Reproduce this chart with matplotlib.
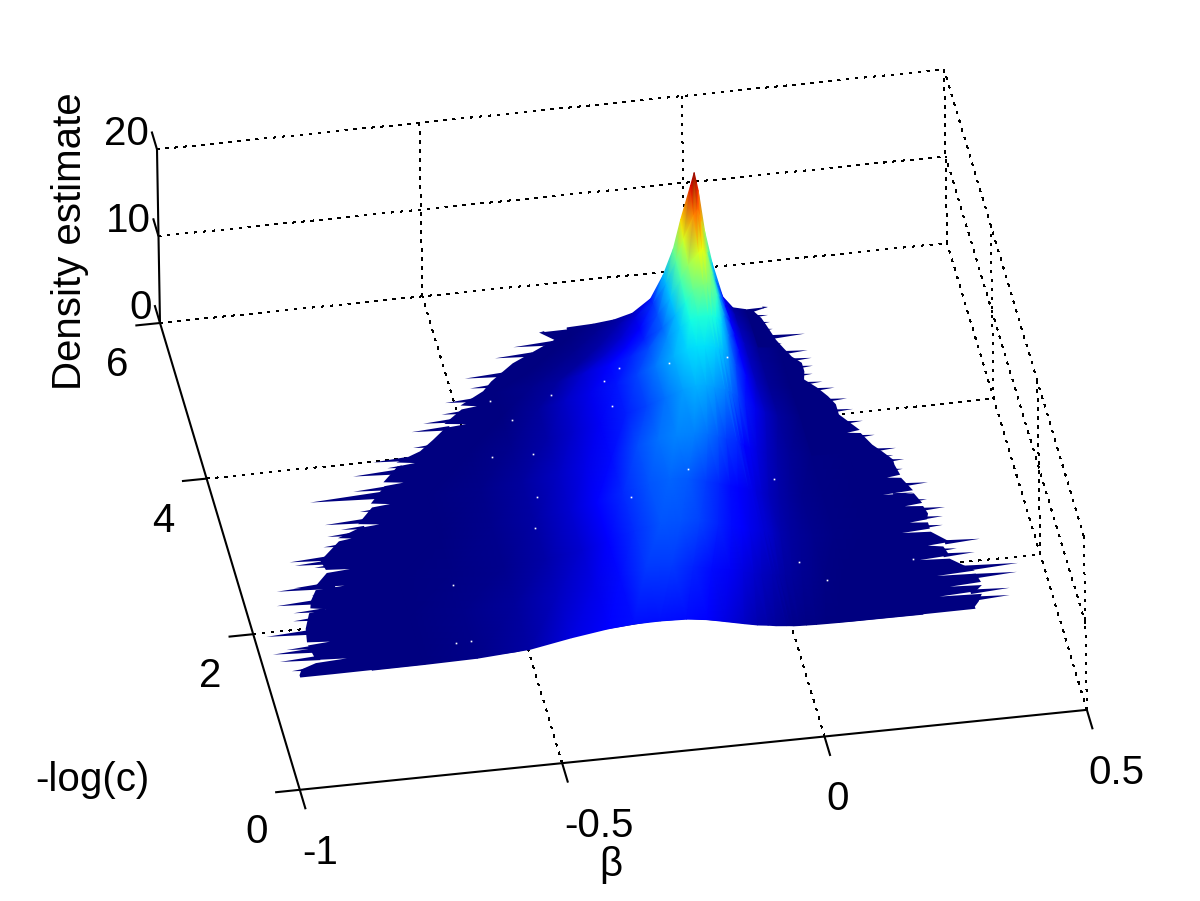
import numpy as np
import matplotlib
matplotlib.use("Agg")
import matplotlib.pyplot as plt

plt.rcParams['font.family'] = ['Liberation Sans', 'DejaVu Sans']

# -----------------------------
# Density table
# -----------------------------
n = np.nan
beta_cols = [-.8, -.7, -.6, -.5, -.42, -.35, -.3, -.25, -.2, -.16, -.125, -.09, -.065,
             -.045, -.03, -.01, -.003, .004, .015, .028, .047, .066, .09, .13, .2, .25]
logc_rows = [5.42, 5.3, 5.1, 4.9, 4.7, 4.4, 4.0, 3.5, 3.0, 2.5, 2.0, 1.4]
density = [
    [n, n, n, n, n, n, n, .03, .15, .4, .95, 2.4, 5.0, 7.9, 11.2, 15, 16.4, 14.3, 9.5, 5.8, 1.8, .4, .05, n, n, n],
    [n, n, n, n, n, n, n, .05, .3, .7, 1.4, 2.9, 5, 7.5, 10, 12.6, 13.2, 11.8, 8.2, 5, 1.9, .6, .1, n, n, n],
    [n, n, n, n, n, n, .03, .2, .6, 1.2, 2, 3.4, 5.2, 7.2, 8.8, 10.1, 10.4, 9.6, 7.5, 4.8, 2, .8, .2, n, n, n],
    [n, n, n, n, n, .03, .2, .5, 1.2, 1.8, 2.6, 3.7, 5, 6.4, 7.6, 8.2, 8.3, 8, 6.8, 4.4, 2.1, .9, .3, .03, n, n],
    [n, n, n, n, .03, .2, .5, 1.2, 1.9, 2.6, 3.3, 4.3, 5.3, 6.1, 6.4, 6.4, 6.3, 6.1, 5.4, 3.8, 2, .9, .35, .03, n, n],
    [n, n, n, n, .05, .4, 1, 1.6, 2.4, 3.2, 4, 4.9, 5.5, 5.7, 5.7, 5.4, 5.2, 5, 4.3, 3.1, 1.8, .9, .35, .05, n, n],
    [n, n, n, .03, .2, .6, 1.1, 1.7, 2.5, 3.2, 3.9, 4.6, 4.9, 4.8, 4.5, 4.1, 3.9, 3.6, 3.1, 2.4, 1.6, 1, .5, .1, n, n],
    [n, n, .03, .15, .45, 1, 1.5, 2.2, 3.3, 3.9, 4.2, 4.1, 3.8, 3.4, 3, 2.7, 2.4, 2.1, 1.7, 1.35, .95, .6, .35, .12, .02, n],
    [n, .02, .06, .2, .55, 1.2, 1.9, 2.7, 3.4, 3.7, 3.5, 3, 2.6, 2.2, 1.9, 1.6, 1.5, 1.3, 1.1, .85, .6, .4, .25, .1, .02, n],
    [n, .02, .1, .25, .6, 1.2, 1.9, 2.8, 3.4, 3.35, 3.1, 2.6, 2.2, 1.8, 1.55, 1.3, 1.2, 1.1, .9, .7, .5, .35, .2, .08, .02, n],
    [.01, .05, .15, .4, .9, 1.5, 2.2, 3, 3, 2.6, 2.2, 1.7, 1.4, 1.1, .9, .75, .7, .6, .5, .4, .3, .2, .12, .05, .02, .01],
    [.01, .05, .15, .55, 1.4, 2, 2.25, 2.3, 2.2, 1.9, 1.45, 1, .7, .55, .4, .28, .24, .18, .15, .12, .08, .06, .04, .03, .02, .01],
]

# outline of the support with its white notches, front to back on the left
left_beta = [-.937, -.93, -.90, -.84, -.90, -.90, -.905, -.862, -.905, -.90, -.885, -.851, -.88, -.875,
             -.86, -.804, -.86, -.83, -.785, -.83, -.835, -.79, -.765, -.79, -.745, -.706, -.745, -.71,
             -.675, -.71, -.675, -.638, -.675, -.64, -.606, -.64, -.59, -.56, -.53, -.49, -.53, -.49,
             -.46, -.49, -.44, -.42, -.37, -.28, -.304]
left_logc = [1.43, 1.5, 1.56, 1.58, 1.60, 1.65, 1.79, 1.81, 1.83, 2.0, 2.19, 2.22, 2.25, 2.34,
             2.47, 2.49, 2.51, 2.67, 2.69, 2.71, 2.83, 3.05, 3.07, 3.09, 3.19, 3.21, 3.24, 3.43,
             3.45, 3.48, 3.68, 3.70, 3.73, 3.91, 3.93, 3.96, 4.07, 4.195, 4.33, 4.35, 4.38, 4.54,
             4.56, 4.59, 4.74, 4.85, 5.05, 5.29, 5.40]

# and back to front on the right
right_beta = [.133, .105, .115, .12, .125, .13, .14, .15, .165, .165, .16, .18, .195, .205, .205,
              .235, .21, .235, .25, .265, .28, .28, .285, .259, .285, .30, .242, .30, .31, .276,
              .31, .315, .31, .276, .31, .31, .256, .31, .34, .297, .325, .33, .33, .274, .33,
              .37, .297, .37, .375, .315, .375, .36, .29, .37, .36, .35]
right_logc = [5.43, 5.39, 5.30, 5.21, 5.11, 5.01, 4.89, 4.78, 4.69, 4.58, 4.48, 4.36, 4.24, 4.13, 4.0,
              3.78, 3.76, 3.74, 3.58, 3.48, 3.37, 3.30, 3.17, 3.15, 3.13, 2.96, 2.94, 2.92, 2.79, 2.77,
              2.75, 2.65, 2.58, 2.56, 2.54, 2.46, 2.44, 2.42, 2.27, 2.25, 2.22, 2.13, 2.10, 2.08, 2.06,
              1.88, 1.86, 1.84, 1.73, 1.71, 1.69, 1.62, 1.60, 1.58, 1.49, 1.43]

# spike tips along both edges
left_tip_beta = [-.304, -.36, -.40, -.467, -.463, -.517, -.53, -.569, -.595, -.601, -.683, -.66, -.728, -.736,
                 -.822, -.735, -.807, -.78, -.809, -.822, -.893, -.885, -.85, -.9, -.933, -.87, -.941, -.914,
                 -.919, -.89, -.977, -.9, -.947, -.975, -.966, -.949]
left_tip_logc = [5.40, 5.25, 5.135, 4.92, 4.79, 4.64, 4.50, 4.41, 4.32, 4.12, 3.99, 3.90, 3.84, 3.65,
                 3.57, 3.39, 3.27, 3.19, 3.12, 2.995, 2.85, 2.80, 2.75, 2.52, 2.50, 2.41, 2.32, 2.21,
                 2.11, 2.05, 1.95, 1.88, 1.76, 1.72, 1.62, 1.49]
right_tip_beta = [.133, .129, .129, .13, .187, .139, .183, .186, .184, .179, .193, .212, .229, .234, .246,
                  .26, .245, .292, .283, .301, .293, .332, .3, .321, .35, .341, .336, .397, .349, .38,
                  .454, .447, .425, .421]
right_tip_logc = [5.43, 5.33, 5.24, 5.15, 5.05, 4.96, 4.84, 4.74, 4.64, 4.54, 4.43, 4.34, 4.19, 4.05, 3.89,
                  3.70, 3.61, 3.51, 3.42, 3.36, 3.24, 3.04, 2.93, 2.83, 2.71, 2.60, 2.49, 2.27, 2.18, 2.11,
                  1.92, 1.81, 1.62, 1.53]

# silhouette of the front row
front_beta = [.35, .25, .111, .015, -.061, -.137, -.194, -.27, -.398, -.524, -.715, -.875, -.937]
front_z = [.02, 0, 0, .2, .67, 1.6, 2.2, 2.3, 1.8, .4, .05, 0, 0]
front_logc = 1.4

# small holes in the surface
hole_beta = [-.176, -.211, -.317, -.21, -.433, -.403, -.46, -.383, -.399, -.225, -.42,
             -.603, -.63, -.601, -.081, .03, -.104, .049, .049, .091, .262]
hole_logc = [4.86, 4.71, 4.61, 4.39, 4.61, 4.34, 3.91, 3.89, 3.35, 3.23, 2.97,
             2.36, 1.63, 1.64, 4.86, 4.86, 3.51, 3.28, 2.21, 1.95, 2.10]

xticks = [-1, -0.5, 0, 0.5]
yticks = [0, 2, 4, 6]
zticks = [0, 10, 20]
xticklabels = ['-1', '-0.5', '0', '0.5']
yticklabels = ['0', '2', '4', '6']
zticklabels = ['0', '10', '20']


# -----------------------------
# Orthographic view of the box
# -----------------------------
def project(b, c, z):
    b = np.asarray(b, dtype=float)
    c = np.asarray(c, dtype=float)
    z = np.asarray(z, dtype=float)
    px = 160 + 524.7 * (b + 1) + 23.3 * (6 - c) - 0.15 * z
    py = 323 - 53.3 * (b + 1) + 77.8 * (6 - c) - 8.68 * z
    return px, py


def line3(b, c, z, **kw):
    px, py = project(b, c, z)
    ax.plot(px, py, **kw)


fig = plt.figure(figsize=(12, 9.01), dpi=100)
ax = fig.add_axes([0, 0, 1, 1])
ax.set_xlim(0, 1200)
ax.set_ylim(901, 0)
ax.axis('off')

solid = dict(color='black', lw=1.5, solid_capstyle='butt', zorder=1)
dotted = dict(color='black', lw=1.0, linestyle=(0, (1.5, 4.5)), dash_capstyle='butt',
              antialiased=False, zorder=1)

# floor and wall grid
for c in yticks[1:]:
    line3([-1, .5], [c, c], [0, 0], **dotted)
    line3([.5, .5], [c, c], [0, 20], **dotted)
for b in xticks[1:]:
    line3([b, b], [0, 6], [0, 0], **dotted)
    line3([b, b], [6, 6], [0, 20], **dotted)
for z in zticks:
    line3([-1, .5], [6, 6], [z, z], **dotted)
    line3([.5, .5], [0, 6], [z, z], **dotted)
line3([.5, .5], [0, 0], [0, 20], **dotted)

# -----------------------------
# Surface
# -----------------------------
navy = plt.get_cmap('jet')(0.0)
outline_b = list(left_beta) + list(right_beta) + front_beta
outline_c = list(left_logc) + list(right_logc) + [front_logc] * len(front_beta)
outline_z = [0] * (len(left_beta) + len(right_beta)) + front_z
ox, oy = project(outline_b, outline_c, outline_z)
ax.fill(ox, oy, color=navy, lw=0, zorder=2)


def spikes(tip_b, tip_c, edge_b, edge_c, inward):
    order = np.argsort(edge_c)
    base = np.interp(tip_c, np.array(edge_c)[order], np.array(edge_b)[order]) + inward
    for tb, tc, bb in zip(tip_b, tip_c, base):
        hw = .012 + .25 * abs(tb - bb + inward)
        sx, sy = project([tb, bb, bb], [tc, tc + hw, tc - hw], [0, 0, 0])
        ax.fill(sx, sy, color=navy, lw=0, zorder=2)


spikes(left_tip_beta, left_tip_logc, left_beta, left_logc, .01)
spikes(right_tip_beta, right_tip_logc, right_beta, right_logc, -.01)

B, C = np.meshgrid(beta_cols, logc_rows)
Z = np.array(density)
gx, gy = project(B, C, np.nan_to_num(Z))
nr, nc = Z.shape
valid = ~np.isnan(Z).ravel()
tris = []
for i in range(nr - 1):
    for j in range(nc - 1):
        a, b, c, d = i * nc + j, i * nc + j + 1, (i + 1) * nc + j, (i + 1) * nc + j + 1
        for tri in ([a, b, c], [b, d, c]):
            if valid[tri].all():
                tris.append(tri)
ax.tripcolor(gx.ravel(), gy.ravel(), np.array(tris), np.nan_to_num(Z).ravel(),
             shading='gouraud', cmap='jet', vmin=0, vmax=16.4, zorder=3)

hx, hy = project(hole_beta, hole_logc, np.zeros(len(hole_beta)))
ax.plot(hx, hy, ls='none', marker='s', ms=1.2, mew=0, color='white', zorder=4)

# -----------------------------
# Axes lines, ticks, labels
# -----------------------------
line3([-1, .5], [0, 0], [0, 0], **solid)
line3([-1, -1], [0, 6], [0, 0], **solid)
line3([-1, -1], [6, 6], [0, 20], **solid)
for b in xticks:
    line3([b, b], [0, -.25], [0, 0], **solid)
for c in yticks:
    line3([-1, -1.047], [c, c], [0, 0], **solid)
for z in zticks:
    line3([-1, -1], [6, 6.23], [z, z], **solid)

fs = 29
for b, s in zip(xticks, xticklabels):
    px, py = project(b, 0, 0)
    ax.text(px + 2, py + 63, s, fontsize=fs, ha='left', va='center')
for c, s in zip(yticks, yticklabels):
    px, py = project(-1, c, 0)
    ax.text(px - 43, py + 42, s, fontsize=fs, ha='center', va='center')
for z, s in zip(zticks, zticklabels):
    px, py = project(-1, 6, z)
    ax.text(px - 8, py - 15, s, fontsize=fs, ha='right', va='center')

ax.text(92, 780, '-log(c)', fontsize=fs, ha='center', va='center')
ax.text(611, 865, '\u03b2', fontsize=fs, ha='center', va='center')
ax.text(70, 241, 'Density estimate', fontsize=fs, rotation=90, ha='center', va='center')

fig.savefig('out.png', dpi=100)
